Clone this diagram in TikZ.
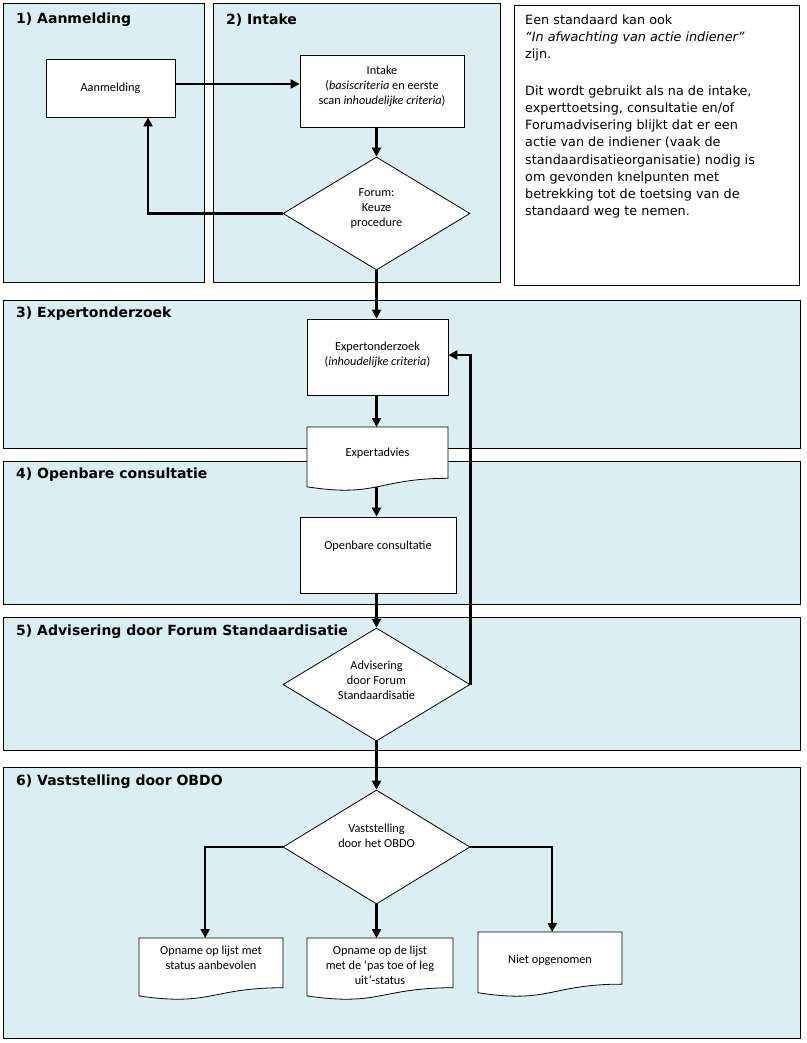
\documentclass[tikz,border=0pt]{standalone}
\usepackage{fontspec}
\setmainfont{DejaVu Sans}
\newfontfamily\boxfont{Carlito}
\usetikzlibrary{shapes.geometric,arrows.meta}
\definecolor{lane}{HTML}{DAEEF3}
\newcommand\docshape[5]{%
  \node[inner sep=0, minimum width={#3-#2}, minimum height={#5}, anchor=north west] (#1) at (#2,#4) {};
  \path[draw=black, fill=white, line width=0.8pt] (#2,#4) -- (#3,#4) -- (#3,{#4+0.802*#5})
    .. controls ({(#2+#3)/2},{#4+0.802*#5}) and ({(#2+#3)/2},{#4+1.107*#5}) .. (#2,{#4+0.934*#5}) -- cycle;
  \coordinate (#1b) at ({(#2+#3)/2},{#4+0.933*#5});
}
\begin{document}
\begin{tikzpicture}[x=1pt,y=-1pt,
  lanebox/.style={draw=black, fill=lane, line width=0.8pt, inner sep=0, anchor=north west},
  lanetitle/.style={anchor=base west, inner sep=0, font=\fontsize{14}{16}\selectfont\bfseries},
  procbox/.style={draw=black, fill=white, line width=0.8pt, inner sep=0},
  txt/.style={align=center, inner sep=0, font=\boxfont\fontsize{12.3}{15}\selectfont},
  dec/.style={diamond, draw=black, fill=white, line width=0.8pt, inner sep=0, minimum width=187, minimum height=113},
  conn/.style={line width=2.4pt, -{Triangle[length=9pt,width=9pt]}}]
\useasboundingbox (0,0) rectangle (806,1043);

% lanes
\node[lanebox, minimum width=201, minimum height=279] (lane1) at (3,3) {};
\node[lanebox, minimum width=287, minimum height=279] (lane2) at (213,3) {};
\node[lanebox, fill=white, minimum width=285, minimum height=280] (note) at (514,5) {};
\node[lanebox, minimum width=797, minimum height=148] (lane3) at (3,300) {};
\node[lanebox, minimum width=797, minimum height=143] (lane4) at (3,461) {};
\node[lanebox, minimum width=797, minimum height=133] (lane5) at (3,617) {};
\node[lanebox, minimum width=797, minimum height=271] (lane6) at (3,767) {};

\node[lanetitle] (t1) at (16,24) {1) Aanmelding};
\node[lanetitle] (t2) at (226,25) {2) Intake};
\node[lanetitle] (t3) at (16,317) {3) Expertonderzoek};
\node[lanetitle] (t4) at (16,478) {4) Openbare consultatie};
\node[lanetitle] (t5) at (16,635) {5) Advisering door Forum Standaardisatie};
\node[lanetitle] (t6) at (16,785) {6) Vaststelling door OBDO};

% note text
\node[anchor=north west, inner sep=0, align=left, font=\fontsize{12.8}{17.2}\selectfont] (notetext) at (525,14.5)
{Een standaard kan ook\\
\textit{“In afwachting van actie indiener”}\\
zijn.\\[19.2pt]
Dit wordt gebruikt als na de intake,\\
experttoetsing, consultatie en/of\\
Forumadvisering blijkt dat er een\\
actie van de indiener (vaak de\\
standaardisatieorganisatie) nodig is\\
om gevonden knelpunten met\\
betrekking tot de toetsing van de\\
standaard weg te nemen.};

% process boxes
\node[procbox, minimum width=129, minimum height=58] (aan) at (110.5,88) {};
\node[txt] (aan-t) at (110.5,88) {Aanmelding};
\node[procbox, minimum width=164, minimum height=72] (intake) at (382,91) {};
\node[txt] (intake-t) at (382,86) {Intake\\(\textit{basiscriteria} en eerste\\scan \textit{inhoudelijke criteria})};
\node[dec] (forum) at (376.5,213.5) {};
\node[txt] (forum-t) at (376.5,208.5) {Forum:\\Keuze\\procedure};

\node[procbox, minimum width=141, minimum height=76] (expert) at (377.5,357) {};
\node[txt] (expert-t) at (377.5,354.5) {Expertonderzoek\\(\textit{inhoudelijke criteria})};

\docshape{ea}{307}{448}{427}{64}
\node[txt] (ea-t) at (377.5,453) {Expertadvies};

\node[procbox, minimum width=156, minimum height=76] (cons) at (378,555) {};
\node[txt] (cons-t) at (378,546) {Openbare consultatie};

\node[dec] (advis) at (376.5,684.5) {};
\node[txt] (advis-t) at (376.5,680) {Advisering\\door Forum\\Standaardisatie};

\node[dec, minimum height=114] (vast) at (376.5,847) {};
\node[txt] (vast-t) at (376.5,835.5) {Vaststelling\\door het OBDO};

\docshape{d1}{139}{283}{938}{62}
\node[txt] (d1-t) at (211,957.5) {Opname op lijst met\\status aanbevolen};
\docshape{d2}{307}{453}{938}{62}
\node[txt] (d2-t) at (380,965) {Opname op de lijst\\met de ‘pas toe of leg\\uit’-status};
\docshape{d3}{478}{622}{932}{65}
\node[txt] (d3-t) at (550,960) {Niet opgenomen};

% connectors
\coordinate (aanout) at ([yshift=4pt]aan.east);
\draw[conn] (aanout) -- (aanout -| intake.west);
\draw[conn] (intake.south -| forum.north) -- (forum.north);
\coordinate (aanin) at ([xshift=37.5pt]aan.south);
\draw[conn] (forum.west) -| (aanin);
\draw[conn] (forum.south) -- (forum.south |- expert.north);
\coordinate (expout) at (forum.south |- expert.south);
\draw[conn] (expout) -- (expout |- ea.north);
\draw[conn] (eab -| forum.south) -- (forum.south |- cons.north);
\draw[conn] (cons.south -| advis.north) -- (advis.north);
\coordinate (expin) at ([yshift=2pt]expert.east);
\draw[conn] (advis.east) |- (expin);
\draw[conn] (advis.south) -- (vast.north);
\draw[conn] (vast.west) -| ([xshift=-6pt]d1.north);
\draw[conn] (vast.south) -- (vast.south |- d2.north);
\draw[conn] (vast.east) -| ([xshift=2pt]d3.north);
\end{tikzpicture}
\end{document}
